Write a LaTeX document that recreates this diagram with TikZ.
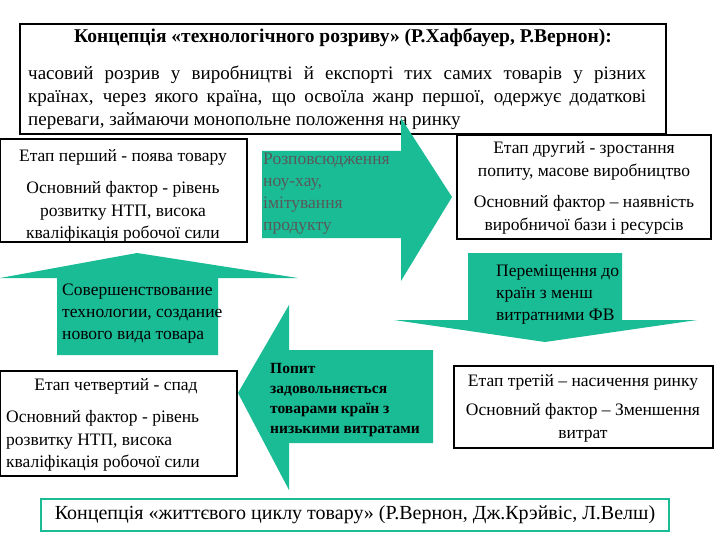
\documentclass[tikz,border=0pt]{standalone}
\usepackage{fontspec}
\setmainfont{Liberation Serif}
\begin{document}
\begin{tikzpicture}[x=1pt,y=-1pt,
  box/.style={draw=black,line width=1.6pt,fill=white},
  arr/.style={fill=teal1},
  txt/.style={font=\fontsize{17.5}{22.5}\selectfont,align=center,inner sep=0pt},
  atxt/.style={font=\fontsize{17.5}{22}\selectfont,align=left,inner sep=0pt,anchor=north west}]
\definecolor{teal1}{RGB}{26,188,150}
\useasboundingbox (0,0) rectangle (720,540);
\fill[white] (0,0) rectangle (720,540);
% top box
\draw[box] (20,24) rectangle (666,134);
\node[txt,font=\bfseries\fontsize{19.5}{23}\selectfont] (title) at (343,38) {Концепція «технологічного розриву» (Р.Хафбауер, Р.Вернон):};
\node[txt,font=\fontsize{19}{23}\selectfont,align=left,anchor=north west] (def) at (28,66) {\makebox[618pt][s]{часовий розрив у виробництві й експорті тих самих товарів у різних}\\\makebox[618pt][s]{країнах, через якого країна, що освоїла жанр першої, одержує додаткові}\\переваги, займаючи монопольне положення на ринку};
% right arrow
\fill[arr] (262,151) -- (401,151) -- (401,118) -- (452,197) -- (401,281) -- (401,238) -- (262,238) -- cycle;
\node[atxt,text=black!65] (a1) at (263,153) {Розповсюдження\\ноу-хау,\\імітування\\продукту};
% box1
\draw[box] (0,139) rectangle (247,242);
\node[txt] (b1a) at (123,157) {Етап перший - поява товару};
\node[txt] (b1b) at (123,212) {Основний фактор - рівень\\розвитку НТП, висока\\кваліфікація робочої сили};
% box2
\draw[box] (457,135) rectangle (711,239);
\node[txt] (b2a) at (584,161) {Етап другий - зростання\\попиту, масове виробництво};
\node[txt] (b2b) at (584,215) {Основний фактор – наявність\\виробничої бази і ресурсів};
% up arrow
\fill[arr] (57,355) -- (218,355) -- (218,278) -- (298,278) -- (137,253) -- (0,278) -- (57,278) -- cycle;
\node[atxt] (a2) at (62,284) {Совершенствование\\технологии, создание\\нового вида товара};
% down arrow
\fill[arr] (468,253) -- (622,253) -- (622,320) -- (697,320) -- (545,342) -- (394,320) -- (468,320) -- cycle;
\node[atxt] (a3) at (496,265) {Переміщення до\\країн з менш\\витратними ФВ};
% left arrow
\fill[arr] (433,350) -- (289,350) -- (289,305) -- (238,393) -- (289,490) -- (289,443) -- (433,443) -- cycle;
\node[atxt,font=\bfseries\fontsize{15.5}{20}\selectfont] (a4) at (270,363) {Попит\\задовольняється\\товарами країн з\\низькими витратами};
% box3
\draw[box] (454,366) rectangle (713,448);
\node[txt] (b3a) at (583,382) {Етап третій – насичення ринку};
\node[txt] (b3b) at (583,423) {Основний фактор – Зменшення\\витрат};
% box4
\draw[box] (0,371) rectangle (237,476);
\node[txt] (b4a) at (116,386) {Етап четвертий - спад};
\node[txt,align=left,anchor=west] (b4b) at (6,441) {Основний фактор - рівень\\розвитку НТП, висока\\кваліфікація робочої сили};
% bottom box
\draw[draw=teal1,line width=1.6pt,fill=white] (41,499) rectangle (669,531);
\node[txt,font=\fontsize{20}{24}\selectfont] (bottom) at (355,515) {Концепція «життєвого циклу товару» (Р.Вернон, Дж.Крэйвіс, Л.Велш)};
\end{tikzpicture}
\end{document}
